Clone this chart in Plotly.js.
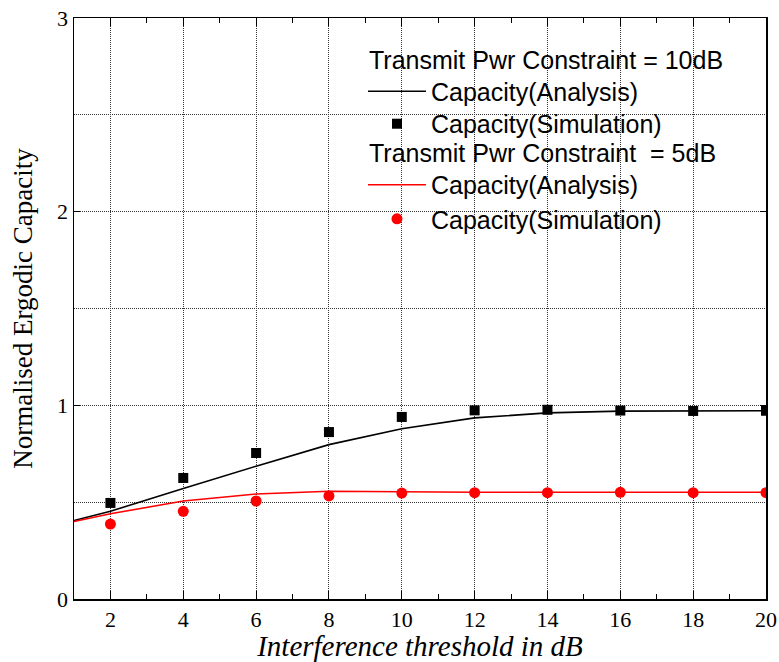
<!DOCTYPE html>
<html>
<head>
<meta charset="utf-8">
<script src="https://cdn.plot.ly/plotly-3.0.1.min.js"></script>
<style>
  html, body { margin: 0; padding: 0; background: #fff; }
  #chart { width: 779px; height: 662px; }
</style>
</head>
<body>
<div id="chart"></div>
<script>
// Interference threshold (dB) at which the analytical curves are evaluated
const thresholdAnalysis = [1, 2, 4, 6, 8, 10, 12, 14, 16, 18, 20];
// Interference threshold (dB) of the simulated points
const thresholdSim = [2, 4, 6, 8, 10, 12, 14, 16, 18, 20];

// Transmit power constraint = 10 dB
const cap10Analysis = [0.405, 0.453, 0.571, 0.686, 0.797, 0.879, 0.935, 0.961, 0.970, 0.971, 0.972];
const cap10Sim      = [0.496, 0.625, 0.754, 0.862, 0.940, 0.974, 0.977, 0.973, 0.971, 0.972];

// Transmit power constraint = 5 dB
const cap5Analysis = [0.400, 0.440, 0.506, 0.542, 0.556, 0.553, 0.551, 0.551, 0.551, 0.551, 0.551];
const cap5Sim      = [0.387, 0.453, 0.506, 0.532, 0.547, 0.549, 0.549, 0.551, 0.549, 0.549];

const groupTitles = ['Transmit Pwr Constraint = 10dB', 'Transmit Pwr Constraint  = 5dB'];
const seriesNames = ['Capacity(Analysis)', 'Capacity(Simulation)'];

const xTickVals = [2, 4, 6, 8, 10, 12, 14, 16, 18, 20];
const yTickVals = [0, 1, 2, 3];

const serif = 'Liberation Serif, Times New Roman, serif';
const sans = 'Liberation Sans, Arial, sans-serif';
const gridStyle = { color: '#333', dash: '1px,1px', width: 1 };

const traces = [
  {
    x: thresholdAnalysis, y: cap10Analysis, type: 'scatter', mode: 'lines',
    name: seriesNames[0], legend: 'legend',
    line: { color: '#000000', width: 1.6 }
  },
  {
    x: thresholdAnalysis, y: cap5Analysis, type: 'scatter', mode: 'lines',
    name: seriesNames[0], legend: 'legend3',
    line: { color: '#ff0000', width: 1.6 }
  },
  {
    x: thresholdSim, y: cap10Sim, type: 'scatter', mode: 'markers',
    name: seriesNames[1], legend: 'legend2',
    marker: { symbol: 'square', size: 10, color: '#000000' }
  },
  {
    x: thresholdSim, y: cap5Sim, type: 'scatter', mode: 'markers',
    name: seriesNames[1], legend: 'legend4',
    marker: { symbol: 'circle', size: 11, color: '#ff0000' }
  }
];

// one single-entry legend per row of the key
function keyRow(yPos) {
  return {
    x: 0.4176, xanchor: 'left', y: yPos, yanchor: 'middle',
    bgcolor: 'rgba(0,0,0,0)', borderwidth: 0,
    itemwidth: 58,
    font: { family: sans, size: 25, color: '#000' }
  };
}

const layout = {
  width: 779, height: 662,
  margin: { l: 74, r: 13, t: 18, b: 63 },
  paper_bgcolor: '#ffffff', plot_bgcolor: '#ffffff',
  showlegend: true,
  legend: keyRow(0.8735),
  legend2: keyRow(0.8176),
  legend3: keyRow(0.7126),
  legend4: keyRow(0.6540),
  xaxis: {
    range: [1, 20],
    tickvals: xTickVals,
    ticks: 'inside', ticklen: 8, tickwidth: 1, tickcolor: '#000',
    showline: true, linecolor: '#000', linewidth: 1.5, mirror: 'ticks',
    showgrid: true, gridcolor: gridStyle.color, griddash: gridStyle.dash, gridwidth: gridStyle.width,
    zeroline: false,
    minor: { dtick: 1, tick0: 1, ticks: 'inside', ticklen: 5, tickcolor: '#000', showgrid: false },
    tickfont: { family: serif, size: 22, color: '#000' },
    title: {
      text: '<i>Interference threshold in dB</i>',
      font: { family: serif, size: 29, color: '#000' },
      standoff: 4
    }
  },
  yaxis: {
    range: [0, 3],
    tickvals: yTickVals,
    ticks: 'inside', ticklen: 6, tickwidth: 1, tickcolor: '#000',
    showline: true, linecolor: '#000', linewidth: 1.5, mirror: 'ticks',
    showgrid: true, gridcolor: gridStyle.color, griddash: gridStyle.dash, gridwidth: gridStyle.width,
    zeroline: false,
    minor: { dtick: 0.5, tick0: 0, ticks: '', showgrid: true,
             gridcolor: gridStyle.color, griddash: gridStyle.dash, gridwidth: gridStyle.width },
    tickfont: { family: serif, size: 22, color: '#000' },
    title: {
      text: 'Normalised Ergodic Capacity',
      font: { family: serif, size: 27, color: '#000' },
      standoff: 16
    }
  },
  shapes: [
    // white panel behind the key, hiding the grid there
    { type: 'rect', xref: 'paper', yref: 'paper', x0: 0.312, x1: 0.9725, y0: 0.544, y1: 1,
      fillcolor: '#ffffff', line: { width: 0 }, layer: 'between' }
  ],
  annotations: [
    { xref: 'paper', yref: 'paper', x: 0.4234, y: 0.9277, xanchor: 'left', yanchor: 'middle',
      showarrow: false, text: groupTitles[0], font: { family: sans, size: 25, color: '#000' } },
    { xref: 'paper', yref: 'paper', x: 0.4234, y: 0.7676, xanchor: 'left', yanchor: 'middle',
      showarrow: false, text: groupTitles[1], font: { family: sans, size: 25, color: '#000' } }
  ]
};

Plotly.newPlot('chart', traces, layout, { displayModeBar: false, staticPlot: true });
</script>
</body>
</html>
